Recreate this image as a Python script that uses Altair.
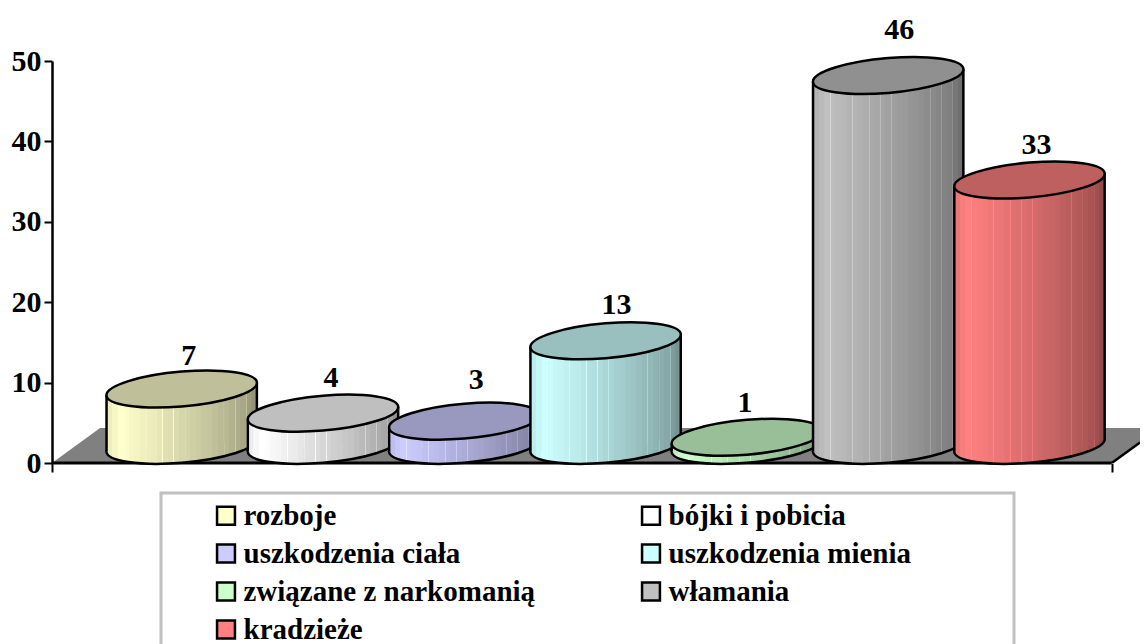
import altair as alt
import pandas as pd

categories = ["rozboje", "bójki i pobicia", "uszkodzenia ciała", "uszkodzenia mienia",
              "związane z narkomanią", "włamania", "kradzieże"]
values = [7, 4, 3, 13, 1, 46, 33]
body_rgb = [(255, 255, 204), (255, 255, 255), (204, 204, 255), (204, 255, 255),
            (204, 255, 204), (192, 192, 192), (255, 128, 128)]
top_colors = ["#BFBF99", "#BFBFBF", "#9999BF", "#99BFBF", "#99BF99", "#909090", "#BF6060"]
label_dx = [7, 8, 12, 11, -2, 11, 7]
label_dy = [-33, -35, -41, -36, -34, -45, -35]
y_ticks = [0, 10, 20, 30, 40, 50]
shades = [0.93, 0.97, 1.0, 0.99, 0.97, 0.96, 0.94, 0.93, 0.92, 0.90, 0.88, 0.87, 0.86, 0.84,
          0.83, 0.81, 0.80, 0.78, 0.77, 0.75, 0.73, 0.72, 0.70, 0.68, 0.66, 0.62, 0.58]
highlights = [3, 7, 10, 12, 14, 21, 23, 25]

FONT = "Liberation Serif"
X_DOM = [-0.9129, 6.787]
SHIFT = 0.005     # small horizontal nudge of the cylinders, in category steps
HALF = 0.532      # half cylinder width, in category steps
FLOOR = 2.2       # depth of the cylinder base above the axis, in value units
TILT = 0.78       # rise of the ellipse ends, in value units
ELLIPSE = "M -1 0.083 A 1 0.23 -5 1 1 1 -0.083 A 1 0.23 -5 1 1 -1 0.083 Z"
SIZE = 22650


def hexcol(rgb, s):
    return "#%02x%02x%02x" % tuple(min(255, int(round(c * s))) for c in rgb)


def grad(rgb):
    stops = []
    n = len(shades)
    for k, s in enumerate(shades):
        a, b = k / n, (k + 1) / n
        stops.append(alt.GradientStop(color=hexcol(rgb, s), offset=a))
        if k in highlights:
            stops.append(alt.GradientStop(color=hexcol(rgb, s + 0.12), offset=a + 0.001))
            stops.append(alt.GradientStop(color=hexcol(rgb, s + 0.12), offset=a + 0.006))
            stops.append(alt.GradientStop(color=hexcol(rgb, s), offset=a + 0.007))
        stops.append(alt.GradientStop(color=hexcol(rgb, s), offset=b))
    return alt.Gradient(gradient="linear", stops=stops, x1=0, x2=1, y1=0, y2=0)


x_scale = alt.Scale(domain=X_DOM, nice=False, zero=False)
y_scale = alt.Scale(domain=[0, 50], nice=False)
X = alt.X("x:Q", scale=x_scale, title=None,
          axis=alt.Axis(values=[X_DOM[0], 6.587], labels=False, domain=False, grid=False,
                        ticks=True, tickSize=9, tickWidth=2, tickColor="black"))
Y = alt.Y("y:Q", scale=y_scale, title=None,
          axis=alt.Axis(values=y_ticks, grid=False, domain=True, domainColor="black", domainWidth=2.5,
                        ticks=True, tickSize=8, tickWidth=2, tickColor="black", labelFont=FONT,
                        labelFontSize=30, labelFontWeight="bold", labelColor="black", labelPadding=3))

floor_df = pd.DataFrame({"x": [X_DOM[0], -0.573, 6.587, X_DOM[1]],
                         "y": [0, 4.35, 4.35, 4.35],
                         "y2": [0, 0, 0, 2.54]})
floor = alt.Chart(floor_df).mark_area(fill="#808080", clip=True).encode(x=X, y=Y, y2="y2:Q")
floor_edge = alt.Chart(pd.DataFrame({"x": [6.587, X_DOM[1]], "y": [0, 2.54]})).mark_line(
    color="black", strokeWidth=2.5, clip=True).encode(x=X, y=Y)
baseline = alt.Chart(pd.DataFrame({"x": [X_DOM[0]], "x2": [6.587], "y": [0]})).mark_rule(
    color="black", strokeWidth=3).encode(x=X, x2="x2:Q", y=Y)

layers = [floor, floor_edge, baseline]

for i, (v, rgb, top, dx, dy) in enumerate(zip(values, body_rgb, top_colors, label_dx, label_dy)):
    g = grad(rgb)
    c = i + SHIFT
    base_pt = pd.DataFrame({"x": [c], "y": [FLOOR]})
    top_pt = pd.DataFrame({"x": [c], "y": [FLOOR + v], "t": [str(v)]})
    body = pd.DataFrame({"x": [c - HALF, c + HALF],
                         "y": [FLOOR + v - TILT, FLOOR + v + TILT],
                         "y2": [FLOOR - TILT, FLOOR + TILT]})
    layers.append(alt.Chart(base_pt).mark_point(shape=ELLIPSE, fill=g, filled=True, stroke="black",
                                                strokeWidth=2.5, opacity=1, size=SIZE).encode(x=X, y=Y))
    layers.append(alt.Chart(body).mark_area(fill=g).encode(x=X, y=Y, y2="y2:Q"))
    layers.append(alt.Chart(body).mark_rule(color="black", strokeWidth=2.5).encode(x=X, y=Y, y2="y2:Q"))
    layers.append(alt.Chart(top_pt).mark_point(shape=ELLIPSE, fill=top, filled=True, stroke="black",
                                               strokeWidth=2.5, opacity=1, size=SIZE).encode(x=X, y=Y))
    layers.append(alt.Chart(top_pt).mark_text(font=FONT, fontSize=30, fontWeight="bold", color="black",
                                              dx=dx, dy=dy).encode(x=X, y=Y, text="t:N"))

legend_df = pd.DataFrame({"c": categories, "x": [0.0] * 7, "y": [0.0] * 7})
legend_layer = alt.Chart(legend_df).mark_rect(strokeWidth=0).encode(
    x=X, x2="x:Q", y=Y, y2="y:Q",
    color=alt.Color("c:N",
                    scale=alt.Scale(domain=categories, range=[hexcol(c, 1) for c in body_rgb]),
                    legend=alt.Legend(title=None, orient="none", legendX=159.5, legendY=440, columns=2,
                                      direction="horizontal", gridAlign="all", columnPadding=101,
                                      rowPadding=8.0, symbolType="square", symbolSize=320,
                                      symbolStrokeColor="black", symbolStrokeWidth=2.5, labelFont=FONT,
                                      labelFontSize=29, labelFontWeight="bold", labelColor="black",
                                      labelOffset=3, labelLimit=500, symbolOpacity=1)))
frame = alt.Chart(pd.DataFrame({"a": [0]})).mark_rect(
    stroke="#C0C0C0", strokeWidth=3, fillOpacity=0).encode(
    x=alt.value(109), x2=alt.value(962), y=alt.value(432), y2=alt.value(640))
layers += [frame, legend_layer]

chart = alt.layer(*layers).properties(
    width=1088, height=402,
    autosize=alt.AutoSizeParams(type="none"),
    padding={"left": 44, "top": 53, "right": 0, "bottom": 181},
    background="white",
).configure_view(stroke=None)

chart.save("out.html", embed_options={"renderer": "svg", "actions": False})
